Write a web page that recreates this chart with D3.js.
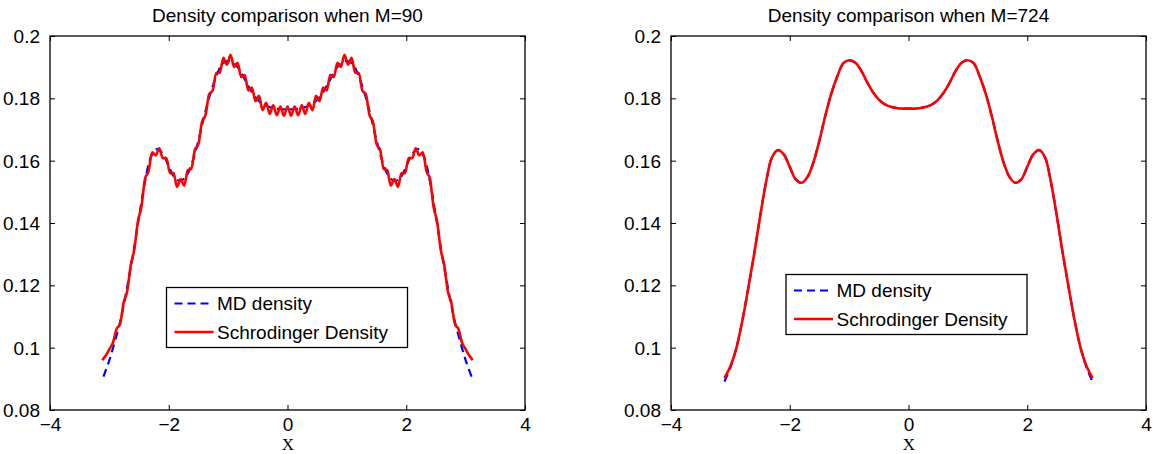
<!DOCTYPE html>
<html>
<head>
<meta charset="utf-8">
<script src="https://cdn.jsdelivr.net/npm/d3@7"></script>
<style>
  html, body { margin: 0; padding: 0; background: #ffffff; }
  svg { display: block; }
  text { font-family: "Liberation Sans", Arial, Helvetica, sans-serif; fill: #000; }
</style>
</head>
<body>
<svg id="chart" width="1155" height="454"></svg>
<script>
// ---------------- data ----------------
const xTicks = [-4, -2, 0, 2, 4];
const xTickLabels = ["\u22124", "\u22122", "0", "2", "4"];
const yTicks = [0.08, 0.1, 0.12, 0.14, 0.16, 0.18, 0.2];
const yTickLabels = ["0.08", "0.1", "0.12", "0.14", "0.16", "0.18", "0.2"];
const titles = ["Density comparison when M=90", "Density comparison when M=724"];
const xLabel = "X";
const legendLabels = ["MD density", "Schrodinger Density"];

const xCoarse = [-3.1,-3.0,-2.9,-2.8,-2.7,-2.6,-2.5,-2.4,-2.3,-2.2,-2.1,-2.0,-1.9,-1.8,-1.7,-1.6,-1.5,-1.4,-1.3,-1.2,-1.1,-1.0,-0.9,-0.8,-0.7,-0.6,-0.5,-0.4,-0.3,-0.2,-0.1,
  0.0,
  0.1,0.2,0.3,0.4,0.5,0.6,0.7,0.8,0.9,1.0,1.1,1.2,1.3,1.4,1.5,1.6,1.7,1.8,1.9,2.0,2.1,2.2,2.3,2.4,2.5,2.6,2.7,2.8,2.9,3.0,3.1];

const xFine = [-3.12,-3.06,-3.00,-2.94,-2.88,-2.82,-2.76,-2.70,-2.64,-2.58,-2.52,-2.46,-2.40,-2.34,-2.28,-2.22,-2.16,-2.10,-2.04,-1.98,-1.92,-1.86,-1.80,-1.74,-1.68,-1.62,-1.56,-1.50,-1.44,-1.38,-1.32,-1.26,-1.20,-1.14,-1.08,-1.02,-0.96,-0.90,-0.84,-0.78,-0.72,-0.66,-0.60,-0.54,-0.48,-0.42,-0.36,-0.30,-0.24,-0.18,-0.12,-0.06,
  0,
  0.06,0.12,0.18,0.24,0.30,0.36,0.42,0.48,0.54,0.60,0.66,0.72,0.78,0.84,0.90,0.96,1.02,1.08,1.14,1.20,1.26,1.32,1.38,1.44,1.50,1.56,1.62,1.68,1.74,1.80,1.86,1.92,1.98,2.04,2.10,2.16,2.22,2.28,2.34,2.40,2.46,2.52,2.58,2.64,2.70,2.76,2.82,2.88,2.94,3.00,3.06,3.12];

// M=90: MD density (on xCoarse)
const mdDensity90 = [0.0907,0.0960,0.1025,0.1098,0.1195,0.1300,0.1420,0.1532,0.1612,0.1637,0.1622,0.1582,0.1545,0.1535,0.1552,0.1597,0.1665,0.1745,0.1815,0.1870,0.1910,0.1920,0.1913,0.1890,0.1853,0.1820,0.1795,0.1780,0.1772,0.1767,0.1765,
  0.1765,
  0.1765,0.1767,0.1772,0.1780,0.1795,0.1820,0.1853,0.1890,0.1913,0.1920,0.1910,0.1870,0.1815,0.1745,0.1665,0.1597,0.1552,0.1535,0.1545,0.1582,0.1622,0.1637,0.1612,0.1532,0.1420,0.1300,0.1195,0.1098,0.1025,0.0960,0.0907];

// M=90: Schrodinger density (on xFine)
const schrodinger90 = [0.0960,0.0975,0.0995,0.1016,0.1059,0.1076,0.1144,0.1181,0.1265,0.1315,0.1405,0.1452,0.1542,0.1566,0.1627,0.1617,0.1640,0.1608,0.1608,0.1560,0.1560,0.1516,0.1541,0.1520,0.1569,0.1574,0.1635,0.1653,0.1725,0.1747,0.1813,0.1825,0.1882,0.1882,0.1930,0.1908,0.1940,0.1901,0.1914,0.1868,0.1875,0.1825,0.1835,0.1791,0.1808,0.1762,0.1786,0.1750,0.1778,0.1746,0.1774,0.1744,
  0.1774,
  0.1744,0.1774,0.1746,0.1778,0.1750,0.1786,0.1762,0.1808,0.1791,0.1835,0.1825,0.1875,0.1868,0.1914,0.1901,0.1940,0.1908,0.1930,0.1882,0.1882,0.1825,0.1813,0.1747,0.1725,0.1653,0.1635,0.1574,0.1569,0.1520,0.1541,0.1516,0.1560,0.1560,0.1608,0.1608,0.1640,0.1617,0.1627,0.1566,0.1542,0.1452,0.1405,0.1315,0.1265,0.1181,0.1144,0.1076,0.1059,0.1016,0.0995,0.0975,0.0960];

// M=724 (on xCoarse)
const mdDensity724 = [0.0891,0.0936,0.0998,0.1085,0.1190,0.1300,0.1420,0.1530,0.1610,0.1634,0.1620,0.1580,0.1540,0.1529,0.1548,0.1595,0.1665,0.1745,0.1815,0.1870,0.1912,0.1922,0.1915,0.1890,0.1853,0.1820,0.1796,0.1781,0.1773,0.1769,0.1767,
  0.1767,
  0.1767,0.1769,0.1773,0.1781,0.1796,0.1820,0.1853,0.1890,0.1915,0.1922,0.1912,0.1870,0.1815,0.1745,0.1665,0.1595,0.1548,0.1529,0.1540,0.1580,0.1620,0.1634,0.1610,0.1530,0.1420,0.1300,0.1190,0.1085,0.0998,0.0936,0.0891];

const schrodinger724 = [0.0902,0.0940,0.0998,0.1085,0.1190,0.1300,0.1420,0.1530,0.1610,0.1634,0.1620,0.1580,0.1540,0.1529,0.1548,0.1595,0.1665,0.1745,0.1815,0.1870,0.1912,0.1922,0.1915,0.1890,0.1853,0.1820,0.1796,0.1781,0.1773,0.1769,0.1767,
  0.1767,
  0.1767,0.1769,0.1773,0.1781,0.1796,0.1820,0.1853,0.1890,0.1915,0.1922,0.1912,0.1870,0.1815,0.1745,0.1665,0.1595,0.1548,0.1529,0.1540,0.1580,0.1620,0.1634,0.1610,0.1530,0.1420,0.1300,0.1190,0.1085,0.0998,0.0940,0.0902];

// ---------------- layout ----------------
const svg = d3.select("#chart");
const FONT = 19;
const panels = [
  { left: 50,  right: 525,  top: 36, bottom: 410, title: titles[0],
    md: { x: xCoarse, y: mdDensity90 }, sc: { x: xFine, y: schrodinger90, curve: d3.curveMonotoneX },
    legend: { x: 166.5, y: 287.5, w: 241, h: 60 } },
  { left: 671, right: 1146, top: 36, bottom: 410, title: titles[1],
    md: { x: xCoarse, y: mdDensity724 }, sc: { x: xCoarse, y: schrodinger724, curve: d3.curveCatmullRom },
    legend: { x: 786, y: 274.5, w: 241, h: 60 } }
];

panels.forEach(p => {
  const g = svg.append("g");
  const x = d3.scaleLinear().domain([-4, 4]).range([p.left, p.right]);
  const y = d3.scaleLinear().domain([0.08, 0.2]).range([p.bottom, p.top]);

  // data lines
  const mdPts = p.md.x.map((v, i) => [v, p.md.y[i]]);
  const scPts = p.sc.x.map((v, i) => [v, p.sc.y[i]]);
  const lineMd = d3.line().x(d => x(d[0])).y(d => y(d[1])).curve(d3.curveCatmullRom);
  const lineSc = d3.line().x(d => x(d[0])).y(d => y(d[1])).curve(p.sc.curve);

  g.append("path").attr("d", lineMd(mdPts))
    .attr("fill", "none").attr("stroke", "#0000ff").attr("stroke-width", 2.2)
    .attr("stroke-dasharray", "8,5");
  g.append("path").attr("d", lineSc(scPts))
    .attr("fill", "none").attr("stroke", "#ff0000").attr("stroke-width", 2.6)
    .attr("stroke-linejoin", "round");

  // axes (MATLAB box with inward ticks on all sides)
  const tickLen = 5;
  const axB = g.append("g").attr("transform", `translate(0,${p.bottom})`)
    .call(d3.axisBottom(x).tickValues(xTicks).tickSizeInner(-tickLen).tickSizeOuter(0)
      .tickFormat((d, i) => xTickLabels[i]).tickPadding(7.5));
  const axT = g.append("g").attr("transform", `translate(0,${p.top})`)
    .call(d3.axisTop(x).tickValues(xTicks).tickSizeInner(-tickLen).tickSizeOuter(0).tickFormat(""));
  const axL = g.append("g").attr("transform", `translate(${p.left},0)`)
    .call(d3.axisLeft(y).tickValues(yTicks).tickSizeInner(-tickLen).tickSizeOuter(0)
      .tickFormat((d, i) => yTickLabels[i]).tickPadding(10));
  const axR = g.append("g").attr("transform", `translate(${p.right},0)`)
    .call(d3.axisRight(y).tickValues(yTicks).tickSizeInner(-tickLen).tickSizeOuter(0).tickFormat(""));
  [axB, axT, axL, axR].forEach(a => {
    a.select(".domain").remove();
    a.selectAll("line").attr("stroke", "#000").attr("stroke-width", 1);
    a.selectAll("text").attr("font-size", FONT)
      .attr("font-family", '"Liberation Sans", Arial, Helvetica, sans-serif').attr("fill", "#000");
  });
  axB.selectAll("text").attr("dy", "0.71em");
  axL.selectAll("text").attr("dy", "0.35em");

  g.append("rect").attr("x", p.left).attr("y", p.top)
    .attr("width", p.right - p.left).attr("height", p.bottom - p.top)
    .attr("fill", "none").attr("stroke", "#000").attr("stroke-width", 1.3);

  // title
  g.append("text").attr("x", (p.left + p.right) / 2).attr("y", 22)
    .attr("text-anchor", "middle").attr("font-size", FONT).text(p.title);

  // x label
  g.append("text").attr("x", (p.left + p.right) / 2 + 0.5).attr("y", 450)
    .attr("text-anchor", "middle").attr("font-size", 17)
    .style("font-family", '"Liberation Serif", "Times New Roman", serif').text(xLabel);

  // legend
  const L = p.legend;
  const lg = g.append("g").attr("transform", `translate(${L.x},${L.y})`);
  lg.append("rect").attr("width", L.w).attr("height", L.h)
    .attr("fill", "#fff").attr("stroke", "#000").attr("stroke-width", 1.3);
  const rows = [
    { label: legendLabels[0], color: "#0000ff", dash: "8,5", w: 2.2, cy: 16 },
    { label: legendLabels[1], color: "#ff0000", dash: null, w: 2.6, cy: 44.5 }
  ];
  rows.forEach(r => {
    lg.append("line").attr("x1", 8).attr("x2", 47).attr("y1", r.cy).attr("y2", r.cy)
      .attr("stroke", r.color).attr("stroke-width", r.w)
      .attr("stroke-dasharray", r.dash);
    lg.append("text").attr("x", 50.5).attr("y", r.cy).attr("dy", "0.35em")
      .attr("font-size", FONT).text(r.label);
  });
});
</script>
</body>
</html>
